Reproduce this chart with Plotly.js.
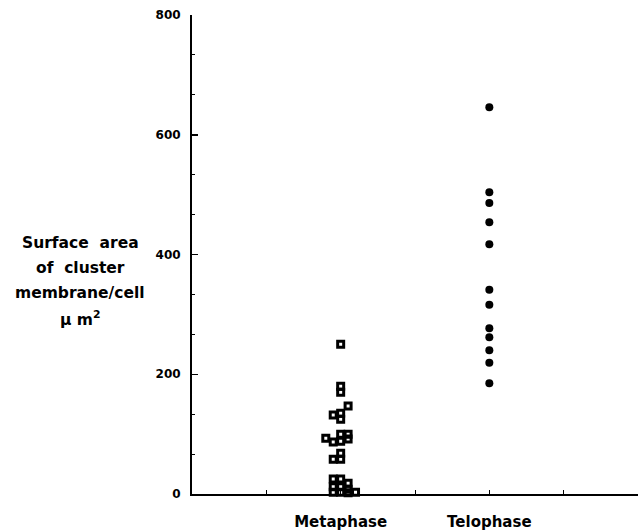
<!DOCTYPE html>
<html>
<head>
<meta charset="utf-8">
<script src="https://cdn.plot.ly/plotly-3.0.1.min.js"></script>
<style>body{margin:0;background:#fff}#chart{width:638px;height:531px}</style>
</head>
<body>
<div id="chart"></div>
<script>
// Categories (x positions) and tick labels
const tickVals = [2, 4];
const tickText = ["Metaphase", "Telophase"];
const plainTickVals = [1, 3, 5];

// Metaphase: x positions (slightly scattered around 2) and surface area values
const metaX = [2.0, 2.0, 2.0, 2.1, 1.9, 2.0, 2.0, 2.0, 2.1, 2.1, 1.8, 1.9, 2.0, 1.9, 2.0, 2.0,
               1.9, 2.0, 2.1, 1.9, 2.0, 2.1, 1.9, 2.0, 2.1, 2.2];
const metaY = [250, 180, 170, 147, 132, 135, 125, 100, 100, 92, 93, 87, 88, 58, 68, 58,
               25, 25, 18, 12, 12, 8, 3, 3, 2, 3];

// Telophase: surface area values
const teloX = [4, 4, 4, 4, 4, 4, 4, 4, 4, 4, 4, 4];
const teloY = [646, 504, 486, 454, 417, 341, 316, 277, 262, 240, 219, 185];

// Y-axis title lines
const yTitleLines = ["Surface  area", "of  cluster", "membrane/cell", "\u03bc m<sup>2</sup>"];

const fontFam = "DejaVu Sans, Verdana, sans-serif";

const traces = [
  {
    x: metaX, y: metaY, type: "scatter", mode: "markers",
    marker: {symbol: "square-open", size: 6, color: "#000", line: {color: "#000", width: 3}},
    hoverinfo: "y", showlegend: false, cliponaxis: false
  },
  {
    x: teloX, y: teloY, type: "scatter", mode: "markers",
    marker: {symbol: "circle", size: 8, color: "#000"},
    hoverinfo: "y", showlegend: false, cliponaxis: false
  }
];

const lineYs = [243, 268, 293, 318];
const annotations = yTitleLines.map((t, i) => ({
  xref: "paper", yref: "paper",
  x: (80 - 192) / 446, y: (494 - lineYs[i]) / 479,
  xanchor: "center", yanchor: "middle", showarrow: false, align: "center",
  text: t,
  font: {family: fontFam, size: 15.5, color: "#000", weight: "bold"}
}));

// Extra unlabeled ticks on the x axis, drawn via a twin axis overlay
const layout = {
  width: 638, height: 531,
  margin: {l: 192, r: 0, t: 15, b: 37},
  paper_bgcolor: "#fff", plot_bgcolor: "#fff",
  font: {family: fontFam, color: "#000"},
  showlegend: false,
  xaxis: {
    range: [0, 6], showgrid: false, zeroline: false,
    showline: true, linecolor: "#000", linewidth: 2,
    tickmode: "array", tickvals: tickVals, ticktext: tickText,
    ticks: "inside", ticklen: 4, tickwidth: 1, tickcolor: "#000",
    ticklabelstandoff: 13,
    tickfont: {family: fontFam, size: 15, color: "#000", weight: "bold"},
    minor: {tickmode: "array", tickvals: plainTickVals, ticks: "inside", ticklen: 4, tickwidth: 1, tickcolor: "#000", showgrid: false}
  },
  yaxis: {
    range: [0, 800], showgrid: false, zeroline: false,
    showline: true, linecolor: "#000", linewidth: 2,
    tickmode: "linear", tick0: 0, dtick: 200,
    ticks: "inside", ticklen: 6, tickwidth: 1.5, tickcolor: "#000",
    ticklabelstandoff: 7,
    tickfont: {family: fontFam, size: 12, color: "#000", weight: "bold"},
    minor: {tick0: 0, dtick: 200/3, ticks: "inside", ticklen: 3, tickwidth: 1, tickcolor: "#000", showgrid: false}
  },
  annotations: annotations
};

Plotly.newPlot("chart", traces, layout, {displayModeBar: false, staticPlot: true});
</script>
</body>
</html>
